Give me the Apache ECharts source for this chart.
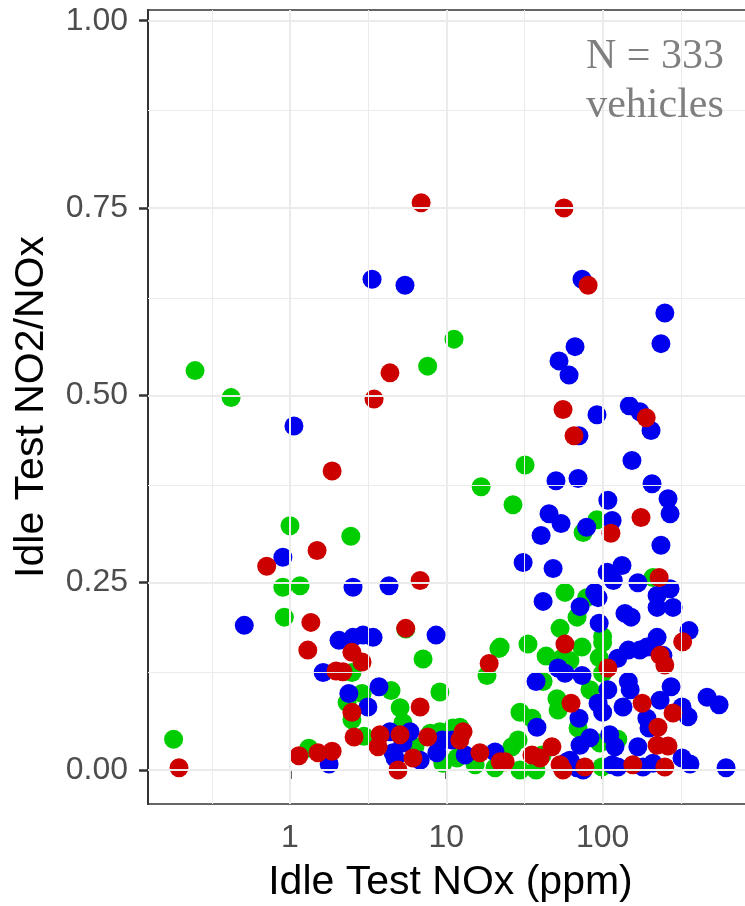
<!DOCTYPE html>
<html>
<head>
<meta charset="utf-8">
<script src="https://cdn.jsdelivr.net/npm/echarts@6/dist/echarts.min.js"></script>
<style>
  html, body { margin: 0; padding: 0; background: #ffffff; }
  #chart { width: 745px; height: 906px; }
</style>
</head>
<body>
<div id="chart"></div>
<script>
// Idle test results: NOx (ppm) against NO2/NOx ratio, three vehicle groups.
const redNOx = [6.9, 56.6, 80.7, 4.36, 3.45, 1.86, 55.8, 190, 65.6, 113, 176, 1.49, 0.71, 6.8, 1.36, 5.5, 1.30, 2.49, 2.89, 1.97,
  2.49, 6.8, 2.57, 0.195, 1.14, 1.51, 1.86, 4.91, 18.8, 3.77, 5.06, 3.66, 6.12, 7.6, 12.8, 12.2, 16.4, 22.1, 57.4, 108,
  250, 233, 325, 62.8, 179, 282, 226, 223, 262, 250, 23.8, 35.3, 47.4, 53.4, 77, 156, 230, 39.8, 55.8, 2.18];
const redRatio = [0.757, 0.750, 0.647, 0.530, 0.495, 0.399, 0.481, 0.470, 0.446, 0.316, 0.337, 0.293, 0.272, 0.253, 0.197, 0.189, 0.160, 0.157, 0.144, 0.132,
  0.077, 0.084, 0.044, 0.003, 0.019, 0.023, 0.025, 0.000, 0.142, 0.047, 0.047, 0.031, 0.016, 0.044, 0.051, 0.040, 0.023, 0.011, 0.168, 0.136,
  0.140, 0.153, 0.171, 0.089, 0.089, 0.076, 0.057, 0.033, 0.032, 0.004, 0.011, 0.020, 0.031, 0.007, 0.004, 0.007, 0.257, 0.016, 0.000, 0.131];

const greenNOx = [11.2, 7.6, 0.247, 0.42, 31.9, 16.7, 26.7, 92, 75, 1.0, 2.45, 0.90, 1.16, 0.92, 5.5, 7.1, 2.49, 4.43, 2.89, 2.32,
  2.49, 5.06, 9.1, 2.97, 0.18, 1.32, 21.7, 18.2, 6.3, 5.28, 9.1, 11.0, 9.5, 11.7, 15.3, 20.5, 33.3, 73.8, 100, 43.5,
  61.8, 95, 41.6, 83, 51, 51.9, 29.6, 35.3, 69.6, 96, 125, 26.3, 28.8, 41, 99, 210, 57.4, 79, 68.6, 53.4,
  100, 22.1, 100, 7.9, 29.6, 37.5, 12.2, 55];
const greenRatio = [0.575, 0.539, 0.533, 0.497, 0.407, 0.378, 0.354, 0.334, 0.317, 0.326, 0.312, 0.244, 0.246, 0.204, 0.188, 0.148, 0.130, 0.106, 0.102, 0.090,
  0.067, 0.083, 0.104, 0.045, 0.041, 0.029, 0.162, 0.126, 0.031, 0.063, 0.051, 0.056, 0.009, 0.016, 0.007, 0.003, 0.168, 0.164, 0.170, 0.152,
  0.146, 0.150, 0.118, 0.107, 0.095, 0.080, 0.077, 0.069, 0.056, 0.036, 0.041, 0.031, 0.040, 0.020, 0.004, 0.257, 0.237, 0.230, 0.204, 0.189,
  0.178, 0.164, 0.129, 0.049, 0.000, 0.000, 0.057, 0.149];

const blueNOx = [3.35, 5.44, 73.8, 250, 236, 1.06, 66.6, 52.6, 61, 92, 148, 173, 204, 70.6, 154, 50.3, 69.6, 207, 262, 270,
  108, 45.4, 54.2, 40.4, 115, 79, 236, 0.90, 2.53, 4.3, 0.51, 8.6, 2.06, 2.53, 2.93, 3.4, 1.63, 3.71, 2.38, 3.15,
  1.78, 4.36, 5.86, 5.28, 4.7, 9.4, 10.9, 13.2, 20.5, 8.7, 57.4, 73.8, 125, 146, 173, 207, 243, 37.5, 146, 274,
  466, 108, 93.5, 100, 135, 233, 322, 352, 38, 70.6, 192, 198, 83, 71.7, 111, 120, 168, 322, 181, 210,
  59.2, 125, 68.6, 31, 48.2, 107, 133, 117, 168, 270, 223, 282, 223, 89, 93.5, 41.6, 71.7, 139, 152, 95,
  357, 223, 192, 556, 616, 4.56, 6.8, 75, 51.9, 150, 61.8, 115, 362];
const blueRatio = [0.655, 0.647, 0.655, 0.610, 0.569, 0.459, 0.565, 0.546, 0.527, 0.474, 0.486, 0.478, 0.453, 0.446, 0.413, 0.386, 0.389, 0.382, 0.362, 0.342,
  0.360, 0.342, 0.329, 0.313, 0.333, 0.324, 0.300, 0.284, 0.244, 0.246, 0.193, 0.180, 0.173, 0.177, 0.180, 0.177, 0.130, 0.111, 0.102, 0.084,
  0.008, 0.051, 0.051, 0.036, 0.016, 0.040, 0.040, 0.020, 0.024, 0.023, 0.129, 0.126, 0.149, 0.160, 0.160, 0.164, 0.153, 0.118, 0.118, 0.111,
  0.097, 0.107, 0.089, 0.077, 0.084, 0.093, 0.084, 0.071, 0.057, 0.069, 0.069, 0.056, 0.043, 0.033, 0.047, 0.031, 0.031, 0.016, 0.004, 0.009,
  0.011, 0.004, 0.003, 0.277, 0.269, 0.264, 0.273, 0.253, 0.250, 0.242, 0.233, 0.217, 0.217, 0.237, 0.230, 0.225, 0.218, 0.209, 0.204, 0.196,
  0.186, 0.177, 0.164, 0.087, 0.003, 0.023, 0.013, 0.000, 0.136, 0.107, 0.013, 0.007, 0.008];

const xTickValues = [1, 10, 100];
const yTickValues = [0, 0.25, 0.5, 0.75, 1];
const noteLines = ['N = 333', 'vehicles'];

// Axis extents (log x, linear y) with padding around the data
const X_MIN = 0.1235, X_MAX = 916;
const Y_MIN = -0.0454, Y_MAX = 1.0143;

// Minor grid lines sit halfway between the major breaks
const minorX = [-1, 0, 1, 2].map(k => Math.pow(10, k + 0.5)).filter(v => v > X_MIN && v < X_MAX);
const minorY = yTickValues.slice(1).map((v, i) => (v + yTickValues[i]) / 2);

const GRID_COLOR = '#EBEBEB';
const gridLines = [].concat(
  minorX.map(v => ({ xAxis: v, lineStyle: { width: 1 } })),
  minorY.map(v => ({ yAxis: v, lineStyle: { width: 1 } })),
  xTickValues.map(v => ({ xAxis: v, lineStyle: { width: 2 } })),
  yTickValues.map(v => ({ yAxis: v, lineStyle: { width: 2 } }))
);

function toPoints(xs, ys) {
  return xs.map((x, i) => [x, ys[i]]);
}

function groupSeries(name, color, xs, ys) {
  return {
    type: 'scatter',
    name: name,
    data: toPoints(xs, ys),
    symbol: 'circle',
    symbolSize: 19,
    itemStyle: { color: color, opacity: 1 },
    z: 3,
    silent: true
  };
}

const chart = echarts.init(document.getElementById('chart'), null, { renderer: 'canvas' });

chart.setOption({
  animation: false,
  backgroundColor: '#ffffff',
  grid: {
    left: 148, top: 10, width: 605, height: 794,
    outerBoundsMode: 'none',
    containLabel: false,
    show: true, borderColor: '#333333', borderWidth: 1.5, backgroundColor: '#ffffff'
  },
  xAxis: {
    type: 'log',
    logBase: 10,
    min: X_MIN,
    max: X_MAX,
    name: 'Idle Test NOx (ppm)',
    nameLocation: 'middle',
    nameGap: 58,
    nameTextStyle: { fontSize: 41, color: '#000000', fontFamily: 'Liberation Sans' },
    axisLine: { show: true, lineStyle: { color: '#333333', width: 2 } },
    axisTick: { show: true, customValues: xTickValues, length: 9, lineStyle: { color: '#333333', width: 2.5 } },
    axisLabel: {
      customValues: xTickValues,
      formatter: v => String(Math.round(v)),
      color: '#4D4D4D', fontSize: 32, fontFamily: 'Liberation Sans', margin: 18
    },
    splitLine: { show: false },
    minorTick: { show: false },
    minorSplitLine: { show: false }
  },
  yAxis: {
    type: 'value',
    min: Y_MIN,
    max: Y_MAX,
    name: 'Idle Test NO2/NOx',
    nameLocation: 'middle',
    nameGap: 96,
    nameTextStyle: { fontSize: 41, color: '#000000', fontFamily: 'Liberation Sans' },
    axisLine: { show: true, lineStyle: { color: '#333333', width: 2 } },
    axisTick: { show: true, customValues: yTickValues, length: 9, lineStyle: { color: '#333333', width: 2.5 } },
    axisLabel: {
      customValues: yTickValues,
      formatter: v => v.toFixed(2),
      color: '#4D4D4D', fontSize: 32, fontFamily: 'Liberation Sans', margin: 20
    },
    splitLine: { show: false },
    minorTick: { show: false },
    minorSplitLine: { show: false }
  },
  graphic: [{
    type: 'text',
    x: 655,
    y: 32,
    z: 10,
    silent: true,
    style: {
      text: noteLines.join('\n'),
      font: '42px "Liberation Serif"',
      fill: '#7F7F7F',
      align: 'center',
      verticalAlign: 'top',
      lineHeight: 49
    }
  }],
  series: [
    {
      type: 'scatter',
      name: 'grid',
      data: [],
      z: 1,
      silent: true,
      markLine: {
        silent: true,
        symbol: 'none',
        animation: false,
        label: { show: false },
        lineStyle: { color: GRID_COLOR, type: 'solid' },
        data: gridLines
      }
    },
    groupSeries('green', '#00CD00', greenNOx, greenRatio),
    groupSeries('blue', '#0000EE', blueNOx, blueRatio),
    groupSeries('red', '#CD0000', redNOx, redRatio)
  ]
});
</script>
</body>
</html>
